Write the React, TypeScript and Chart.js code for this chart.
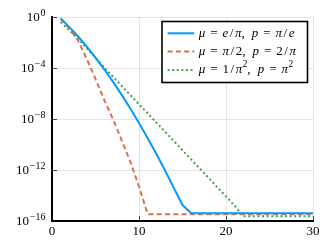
import React, { useEffect, useRef } from "react";
import { Chart, registerables } from "chart.js";

Chart.register(...registerables);

// ---- data ----
const iterations = [1, 2, 3, 4, 5, 6, 7, 8, 9, 10, 11, 12, 13, 14, 15, 16, 17, 18, 19, 20, 21, 22, 23, 24, 25, 26, 27, 28, 29, 30];

const errBlue = [
  0.76, 0.162, 2.95e-2, 4.68e-3, 6.46e-4, 7.94e-5, 8.51e-6, 8.13e-7, 6.76e-8, 4.9e-9,
  3.16e-10, 1.82e-11, 9.12e-13, 3.98e-14, 1.78e-15, 4.1e-16, 4.1e-16, 4.1e-16, 4.1e-16, 4.1e-16,
  4.1e-16, 4.1e-16, 4.1e-16, 4.1e-16, 4.1e-16, 4.1e-16, 4.1e-16, 4.1e-16, 4.1e-16, 4.1e-16,
];

const errOrange = [
  0.71, 0.126, 1.41e-2, 5.0e-4, 1.41e-5, 3.16e-7, 1.0e-8, 2.24e-10, 4.47e-12, 5.0e-14,
  3.4e-16, 3.4e-16, 3.4e-16, 3.4e-16, 3.4e-16, 3.4e-16, 3.4e-16, 3.4e-16, 3.4e-16, 3.4e-16,
  3.4e-16, 3.4e-16, 3.4e-16, 3.4e-16, 3.4e-16, 3.4e-16, 3.4e-16, 3.4e-16, 3.4e-16, 3.4e-16,
];

const errGreen = [
  0.398, 8.91e-2, 2.0e-2, 3.55e-3, 6.31e-4, 1.12e-4, 2.09e-5, 3.98e-6, 7.59e-7, 1.41e-7,
  2.82e-8, 5.25e-9, 1.0e-9, 1.91e-10, 3.55e-11, 6.61e-12, 1.26e-12, 2.4e-13, 4.47e-14, 8.51e-15,
  1.58e-15, 2.4e-16, 2.4e-16, 2.4e-16, 2.4e-16, 2.4e-16, 2.4e-16, 2.4e-16, 2.4e-16, 2.4e-16,
];

const seriesLabels = ["μ = e/π, p = π/e", "μ = π/2, p = 2/π", "μ = 1/π², p = π²"];
const seriesColors = ["#009AFA", "#E36F47", "#3EA44E"];

const xTickValues = [0, 10, 20, 30];
const yTickValues = [1, 1e-4, 1e-8, 1e-12, 1e-16];
const yTickBase = "10";
const yTickExponents = ["0", "−4", "−8", "−12", "−16"];

const SERIF = '"Liberation Serif", "DejaVu Serif", serif';

function drawMath(ctx: CanvasRenderingContext2D, str: string, x: number, y: number, size: number) {
  let cx = x;
  const chars = Array.from(str);
  ctx.textBaseline = "middle";
  ctx.textAlign = "left";
  for (let i = 0; i < chars.length; i++) {
    const ch = chars[i];
    if (ch === " ") {
      cx += chars[i - 1] === "," ? size * 0.55 : size * 0.38;
      continue;
    }
    if (ch === "²") {
      ctx.font = `${size * 0.72}px ${SERIF}`;
      ctx.fillText("2", cx + 0.5, y - size * 0.38);
      cx += ctx.measureText("2").width + 0.5;
      continue;
    }
    const italic = /[A-Za-zμπ]/.test(ch);
    ctx.font = `${italic ? "italic " : ""}${size}px ${SERIF}`;
    const extra = ch === "/" ? 1.5 : 0;
    ctx.fillText(ch, cx + extra, y);
    cx += ctx.measureText(ch).width + extra * 2;
  }
}

const axisDecorPlugin = {
  id: "axisDecor",
  beforeDatasetsDraw(chart: any) {
    const { ctx, chartArea, scales } = chart;
    const xs = scales.x;
    const ys = scales.y;
    ctx.save();
    ctx.strokeStyle = "rgba(0,0,0,0.7)";
    ctx.lineWidth = 1;
    ctx.beginPath();
    for (const v of xTickValues) {
      const px = Math.round(xs.getPixelForValue(v)) + 0.5;
      ctx.moveTo(px, chartArea.bottom);
      ctx.lineTo(px, chartArea.bottom - 5);
    }
    for (const v of yTickValues) {
      const py = Math.round(ys.getPixelForValue(v)) + 0.5;
      ctx.moveTo(chartArea.left, py);
      ctx.lineTo(chartArea.left + 5, py);
    }
    ctx.stroke();
    ctx.restore();
  },
  afterDraw(chart: any) {
    const { ctx, chartArea, scales } = chart;
    const ys = scales.y;
    ctx.save();
    ctx.fillStyle = "#000";
    ctx.textBaseline = "middle";
    ctx.textAlign = "left";
    const right = chartArea.left - 6.5;
    yTickValues.forEach((v, i) => {
      const py = ys.getPixelForValue(v);
      ctx.font = `10px ${SERIF}`;
      const sw = ctx.measureText(yTickExponents[i]).width;
      ctx.font = `13px ${SERIF}`;
      const bw = ctx.measureText(yTickBase).width;
      const bx = right - sw - bw - 0.8;
      ctx.fillText(yTickBase, bx, py + 1);
      ctx.font = `10px ${SERIF}`;
      ctx.fillText(yTickExponents[i], bx + bw + 0.8, py - 3.5);
    });
    ctx.restore();
  },
};

const boxLegendPlugin = {
  id: "boxLegend",
  afterDatasetsDraw(chart: any) {
    const { ctx, chartArea } = chart;
    const w = 145.5;
    const h = 61;
    const x0 = chartArea.right - 5.5 - w;
    const y0 = chartArea.top + 4.5;
    ctx.save();
    ctx.fillStyle = "#fff";
    ctx.fillRect(x0, y0, w, h);
    ctx.strokeStyle = "#000";
    ctx.lineWidth = 1.6;
    ctx.strokeRect(x0, y0, w, h);
    chart.data.datasets.forEach((ds: any, i: number) => {
      const yy = y0 + 11.8 + i * 18.3;
      ctx.beginPath();
      ctx.strokeStyle = ds.borderColor;
      ctx.lineWidth = ds.borderWidth;
      ctx.setLineDash(ds.borderDash || []);
      ctx.moveTo(x0 + 5.6, yy);
      ctx.lineTo(x0 + 32.3, yy);
      ctx.stroke();
      ctx.setLineDash([]);
      ctx.fillStyle = "#000";
      drawMath(ctx, ds.label, x0 + 36.8, yy, 13);
    });
    ctx.restore();
  },
};

export default function App() {
  const canvasRef = useRef<HTMLCanvasElement | null>(null);

  useEffect(() => {
    const canvas = canvasRef.current;
    if (!canvas) return;
    const series = [errBlue, errOrange, errGreen];
    const dashes = [[], [5, 3.3], [2, 2.6]];
    const chart = new Chart(canvas, {
      type: "line",
      data: {
        datasets: series.map((vals, i) => ({
          label: seriesLabels[i],
          data: iterations.map((x, j) => ({ x, y: vals[j] })),
          borderColor: seriesColors[i],
          backgroundColor: seriesColors[i],
          borderWidth: 2,
          borderDash: dashes[i],
          pointRadius: 0,
          tension: 0,
          fill: false,
        })),
      },
      options: {
        animation: false,
        responsive: false,
        devicePixelRatio: 1,
        layout: { padding: { top: 17, right: 19, left: 0, bottom: 0 } },
        plugins: {
          legend: { display: false },
          tooltip: { enabled: false },
        },
        scales: {
          x: {
            type: "linear",
            min: 0,
            max: 30,
            afterBuildTicks: (scale: any) => {
              scale.ticks = xTickValues.map((v) => ({ value: v }));
            },
            afterFit: (scale: any) => {
              scale.height = 26;
            },
            ticks: {
              color: "#000",
              padding: 3,
              maxRotation: 0,
              font: { family: SERIF, size: 13 },
              callback: (v: any) => String(v),
            },
            grid: { color: "rgba(0,0,0,0.1)", lineWidth: 1, drawTicks: false },
            border: { color: "#000", width: 2 },
          },
          y: {
            type: "logarithmic",
            min: 1e-16,
            max: 1,
            afterBuildTicks: (scale: any) => {
              scale.ticks = yTickValues.map((v) => ({ value: v }));
            },
            afterFit: (scale: any) => {
              scale.width = 52;
            },
            ticks: { display: false },
            grid: { color: "rgba(0,0,0,0.1)", lineWidth: 1, drawTicks: false },
            border: { color: "#000", width: 2 },
          },
        },
      },
      plugins: [axisDecorPlugin, boxLegendPlugin],
    });
    return () => chart.destroy();
  }, []);

  return (
    <div style={{ position: "fixed", left: 0, top: 0, width: 332, height: 247, background: "#fff" }}>
      <canvas ref={canvasRef} width={332} height={247} style={{ display: "block" }} />
    </div>
  );
}
